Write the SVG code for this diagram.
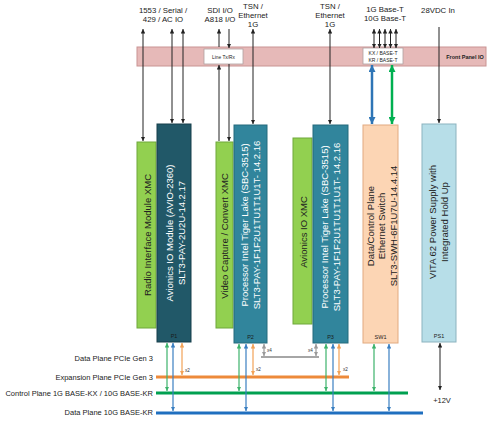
<svg xmlns="http://www.w3.org/2000/svg" width="487" height="421" viewBox="0 0 487 421">
<style>
text{font-family:"Liberation Sans",Arial,sans-serif;fill:#222}
.top{font-size:7.8px;text-anchor:middle}
.bus{font-size:7.5px;text-anchor:end}
.mod{font-size:9.5px;text-anchor:middle;dominant-baseline:central}
.w{fill:#fff}
.pl{font-size:5.5px;text-anchor:middle;fill:#1a1a1a}
.sm{font-size:4.6px;fill:#333}
.xmc{fill:#92d050;stroke:#6fa83a;stroke-width:1}
.dk{fill:#215868;stroke:#173f4b;stroke-width:1}
.tl{fill:#31859c;stroke:#246a7c;stroke-width:1}
.k{stroke:#222;stroke-width:1;fill:none}
.bl{stroke:#3a7fc1;stroke-width:1.2;fill:none}
.gr{stroke:#3cb36b;stroke-width:1.2;fill:none}
.or{stroke:#f2a257;stroke-width:1.2;fill:none}
.gy{stroke:#9a9a9a;stroke-width:1.2;fill:none}
</style>
<defs>
<marker id="ak" viewBox="0 0 6 6" refX="6" refY="3" markerWidth="4.5" markerHeight="4.5" markerUnits="userSpaceOnUse" orient="auto-start-reverse"><path d="M0,0L6,3L0,6z" fill="#222"/></marker>
<marker id="ab" viewBox="0 0 6 6" refX="6" refY="3" markerWidth="4.5" markerHeight="4.5" markerUnits="userSpaceOnUse" orient="auto-start-reverse"><path d="M0,0L6,3L0,6z" fill="#3a7fc1"/></marker>
<marker id="ag" viewBox="0 0 6 6" refX="6" refY="3" markerWidth="4.5" markerHeight="4.5" markerUnits="userSpaceOnUse" orient="auto-start-reverse"><path d="M0,0L6,3L0,6z" fill="#3cb36b"/></marker>
<marker id="ao" viewBox="0 0 6 6" refX="6" refY="3" markerWidth="4.5" markerHeight="4.5" markerUnits="userSpaceOnUse" orient="auto-start-reverse"><path d="M0,0L6,3L0,6z" fill="#f2a257"/></marker>
<marker id="ay" viewBox="0 0 6 6" refX="6" refY="3" markerWidth="4.5" markerHeight="4.5" markerUnits="userSpaceOnUse" orient="auto-start-reverse"><path d="M0,0L6,3L0,6z" fill="#9a9a9a"/></marker>
<marker id="aB" viewBox="0 0 6 6" refX="6" refY="3" markerWidth="7" markerHeight="7" markerUnits="userSpaceOnUse" orient="auto-start-reverse"><path d="M0,0L6,3L0,6z" fill="#2e75b6"/></marker>
<marker id="aG" viewBox="0 0 6 6" refX="6" refY="3" markerWidth="7" markerHeight="7" markerUnits="userSpaceOnUse" orient="auto-start-reverse"><path d="M0,0L6,3L0,6z" fill="#00b050"/></marker>
</defs>
<rect width="487" height="421" fill="#fff"/>

<!-- Top labels -->
<g id="top-labels">
<text class="top" x="163" y="12.8">1553 / Serial /</text>
<text class="top" x="163" y="21.8">429 / AC IO</text>
<text class="top" x="220" y="12.8">SDI I/O</text>
<text class="top" x="220" y="21.8">A818 I/O</text>
<text class="top" x="253" y="8.8">TSN /</text>
<text class="top" x="253" y="17.8">Ethernet</text>
<text class="top" x="253" y="26.8">1G</text>
<text class="top" x="330" y="8.8">TSN /</text>
<text class="top" x="330" y="17.8">Ethernet</text>
<text class="top" x="330" y="26.8">1G</text>
<text class="top" x="385" y="12.3">1G Base-T</text>
<text class="top" x="385" y="20.8">10G Base-T</text>
<text class="top" x="438" y="13.3">28VDC In</text>
</g>

<!-- Front panel -->
<g id="front-panel">
<rect x="137" y="47" width="349" height="19" fill="#e6b9b8" stroke="#c99493" stroke-width="1"/>
<text x="465" y="59" style="font-size:5.5px;font-weight:bold;text-anchor:middle">Front Panel IO</text>
</g>
<g id="line-txrx">
<rect x="204" y="49" width="39" height="15" fill="#fff" stroke="#b0a0a0" stroke-width="0.8"/>
<text x="223.5" y="58.5" style="font-size:4.8px;text-anchor:middle">Line Tx/Rx</text>
</g>
<g id="kx-box">
<rect x="363" y="48" width="40" height="16" fill="#fff" stroke="#b0a0a0" stroke-width="0.8"/>
<text x="383" y="55" style="font-size:5px;text-anchor:middle">KX / BASE-T</text>
<text x="383" y="62" style="font-size:5px;text-anchor:middle">KR / BASE-T</text>
</g>

<!-- Buses -->
<g id="buses">
<text class="bus" x="153" y="360.6">Data Plane PCIe Gen 3</text>
<text class="bus" x="153" y="379.6">Expansion Plane PCIe Gen 3</text>
<text class="bus" x="153" y="395.6">Control Plane 1G BASE-KX / 10G BASE-KR</text>
<text class="bus" x="153" y="415">Data Plane 10G BASE-KR</text>
<line x1="156" y1="377" x2="349" y2="377" stroke="#ed8a3a" stroke-width="3"/>
<line x1="156" y1="393" x2="408" y2="393" stroke="#00a050" stroke-width="3"/>
<line x1="156" y1="413" x2="423" y2="413" stroke="#1f6fbf" stroke-width="3"/>
<line x1="261" y1="357" x2="319" y2="357" stroke="#a6a6a6" stroke-width="2"/>
</g>

<!-- Modules -->
<g id="radio-xmc">
<rect class="xmc" x="137" y="142" width="19" height="186"/>
<text class="mod" transform="translate(147,235) rotate(-90)">Radio Interface Module XMC</text>
</g>
<g id="p1">
<rect class="dk" x="157" y="124" width="34" height="218"/>
<text class="mod w" transform="translate(169,233) rotate(-90)">Avionics IO Module (AVIO-2360)</text>
<text class="mod w" transform="translate(181,233) rotate(-90)">SLT3-PAY-2U2U-14.2.17</text>
<text class="pl" x="174" y="338">P1</text>
</g>
<g id="video-xmc">
<rect class="xmc" x="216" y="142" width="17" height="186"/>
<text class="mod" transform="translate(224.5,236) rotate(-90)">Video Capture / Convert XMC</text>
</g>
<g id="p2">
<rect class="tl" x="234" y="125" width="33" height="218"/>
<text class="mod w" transform="translate(244.5,225) rotate(-90)">Processor Intel Tiger Lake (SBC-3515)</text>
<text class="mod w" transform="translate(256.5,225) rotate(-90)">SLT3-PAY-1F1F2U1TU1T1U1T- 14.2.16</text>
<text class="pl" x="250.5" y="339">P2</text>
</g>
<g id="avionics-xmc">
<rect class="xmc" x="293" y="138" width="19" height="186"/>
<text class="mod" transform="translate(303,232) rotate(-90)">Avionics IO XMC</text>
</g>
<g id="p3">
<rect class="tl" x="313" y="125" width="35" height="218"/>
<text class="mod w" transform="translate(324,227) rotate(-90)">Processor Intel Tiger Lake (SBC-3515)</text>
<text class="mod w" transform="translate(336,227) rotate(-90)">SLT3-PAY-1F1F2U1TU1T1U1T- 14.2.16</text>
<text class="pl" x="330.5" y="339">P3</text>
</g>
<g id="sw1">
<rect x="363" y="125" width="35" height="218" fill="#fcd5b4" stroke="#e2aa80" stroke-width="1"/>
<text class="mod" transform="translate(370,226) rotate(-90)">Data/Control Plane</text>
<text class="mod" transform="translate(381.5,226) rotate(-90)">Ethernet Switch</text>
<text class="mod" transform="translate(393,226) rotate(-90)">SLT3-SWH-6F1U7U-14.4.14</text>
<text class="pl" x="380.5" y="339">SW1</text>
</g>
<g id="ps1">
<rect x="422" y="124" width="34" height="218" fill="#b7dee8" stroke="#8cb3bf" stroke-width="1"/>
<text class="mod" transform="translate(432.5,222) rotate(-90)">VITA 62 Power Supply with</text>
<text class="mod" transform="translate(444,222) rotate(-90)">Integrated Hold Up</text>
<text class="pl" x="439" y="338">PS1</text>
</g>

<!-- Connectors -->
<g id="connectors">
<line class="k" x1="143" y1="29" x2="143" y2="141" marker-start="url(#ak)" marker-end="url(#ak)"/>
<line class="k" x1="172" y1="29" x2="172" y2="123" marker-start="url(#ak)" marker-end="url(#ak)"/>
<line class="k" x1="183" y1="29" x2="183" y2="123" marker-start="url(#ak)" marker-end="url(#ak)"/>
<line class="k" x1="219" y1="47" x2="219" y2="29" marker-end="url(#ak)"/>
<line class="k" x1="219" y1="141" x2="219" y2="65" marker-end="url(#ak)"/>
<line class="k" x1="229" y1="29" x2="229" y2="48" marker-end="url(#ak)"/>
<line class="k" x1="229" y1="64" x2="229" y2="141" marker-end="url(#ak)"/>
<line class="k" x1="253" y1="29" x2="253" y2="124" marker-start="url(#ak)" marker-end="url(#ak)"/>
<line class="k" x1="330" y1="29" x2="330" y2="124" marker-start="url(#ak)" marker-end="url(#ak)"/>
<line class="k" x1="374" y1="29" x2="374" y2="48" marker-start="url(#ak)" marker-end="url(#ak)"/>
<line class="k" x1="379.5" y1="29" x2="379.5" y2="48" marker-start="url(#ak)" marker-end="url(#ak)"/>
<line class="k" x1="385" y1="29" x2="385" y2="48" marker-start="url(#ak)" marker-end="url(#ak)"/>
<line class="k" x1="390.5" y1="29" x2="390.5" y2="48" marker-start="url(#ak)" marker-end="url(#ak)"/>
<line class="k" x1="396" y1="29" x2="396" y2="48" marker-start="url(#ak)" marker-end="url(#ak)"/>
<line x1="372" y1="65" x2="372" y2="124" stroke="#2e75b6" stroke-width="2.5" marker-start="url(#aB)" marker-end="url(#aB)"/>
<line x1="392" y1="65" x2="392" y2="124" stroke="#00b050" stroke-width="2.5" marker-start="url(#aG)" marker-end="url(#aG)"/>
<line class="k" x1="439" y1="27" x2="439" y2="123" marker-end="url(#ak)"/>

<line class="gr" x1="167" y1="343" x2="167" y2="391" marker-start="url(#ag)" marker-end="url(#ag)"/>
<line class="bl" x1="173" y1="343" x2="173" y2="411" marker-start="url(#ab)" marker-end="url(#ab)"/>
<line class="or" x1="182" y1="343" x2="182" y2="375" marker-start="url(#ao)" marker-end="url(#ao)"/>
<text class="sm" x="185" y="372">x2</text>

<line class="gr" x1="239" y1="344" x2="239" y2="391" marker-start="url(#ag)" marker-end="url(#ag)"/>
<line class="bl" x1="246" y1="344" x2="246" y2="411" marker-start="url(#ab)" marker-end="url(#ab)"/>
<line class="or" x1="253" y1="344" x2="253" y2="375" marker-start="url(#ao)" marker-end="url(#ao)"/>
<text class="sm" x="256" y="371">x2</text>
<line class="gy" x1="264" y1="344" x2="264" y2="356" marker-start="url(#ay)" marker-end="url(#ay)"/>
<text class="sm" x="267" y="352">x4</text>

<line class="gy" x1="316" y1="344" x2="316" y2="356" marker-start="url(#ay)" marker-end="url(#ay)"/>
<text class="sm" x="308" y="352">x4</text>
<line class="gr" x1="326" y1="344" x2="326" y2="391" marker-start="url(#ag)" marker-end="url(#ag)"/>
<line class="bl" x1="333" y1="344" x2="333" y2="411" marker-start="url(#ab)" marker-end="url(#ab)"/>
<line class="or" x1="339" y1="344" x2="339" y2="375" marker-start="url(#ao)" marker-end="url(#ao)"/>
<text class="sm" x="343" y="371">x2</text>

<line class="gr" x1="374" y1="344" x2="374" y2="391" marker-start="url(#ag)" marker-end="url(#ag)"/>
<line class="bl" x1="389" y1="344" x2="389" y2="411" marker-start="url(#ab)" marker-end="url(#ab)"/>

<line class="k" x1="440" y1="343" x2="440" y2="390" marker-start="url(#ak)" marker-end="url(#ak)"/>
<text x="442" y="403" style="font-size:7.5px;text-anchor:middle">+12V</text>
</g>
</svg>
